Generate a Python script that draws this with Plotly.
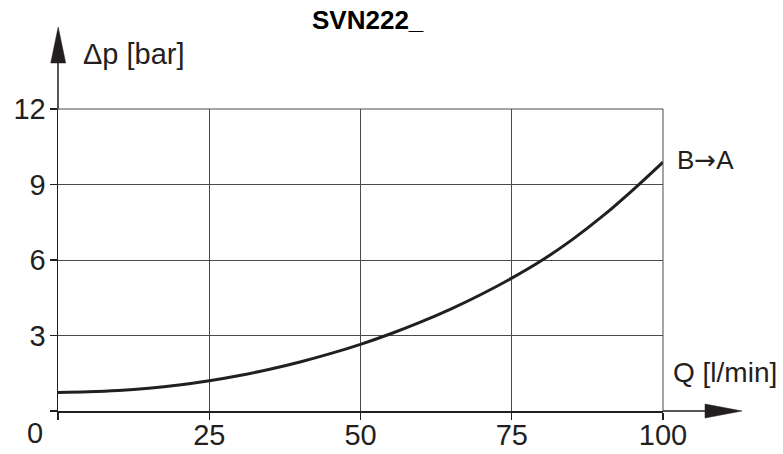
import plotly.graph_objects as go

# Data
flow_q = [0, 5, 10, 15, 20, 25, 30, 35, 40, 45, 50, 55, 60, 65, 70, 75, 80, 85, 90, 95, 100]
dp_bar = [0.74, 0.76, 0.81, 0.90, 1.03, 1.20, 1.41, 1.66, 1.95, 2.28, 2.65, 3.07, 3.54,
          4.06, 4.64, 5.28, 5.99, 6.81, 7.74, 8.78, 9.89]
x_ticks = [0, 25, 50, 75, 100]
x_tick_text = ["", "25", "50", "75", "100"]
y_ticks = [0, 3, 6, 9, 12]
y_tick_text = ["", "3", "6", "9", "12"]
series_name = "B\u2192A"
title_text = "SVN222_"
x_label = "Q [l/min]"
y_label = "\u0394p [bar]"

INK = "#231f20"
GRID = "#4a4a4a"
FONT = "Arial, Liberation Sans, Helvetica, sans-serif"

W, H = 783, 454
L, R, T, B = 58, 120, 109, 43
PW, PH = W - L - R, H - T - B


def px(xpix):
    return (xpix - L) / PW


def py(ypix):
    return (H - B - ypix) / PH


fig = go.Figure()
fig.add_trace(go.Scatter(
    x=flow_q, y=dp_bar, mode="lines", name=series_name,
    line=dict(color=INK, width=3, shape="spline"),
    showlegend=False, hoverinfo="skip",
))

axis_common = dict(
    showgrid=True, gridcolor=GRID, gridwidth=1,
    showline=True, linecolor=INK, linewidth=1.5, mirror=False,
    ticks="outside", ticklen=7, tickwidth=1.2, tickcolor=INK,
    zeroline=False, fixedrange=True, automargin=False,
    tickfont=dict(family=FONT, size=29, color=INK),
)

fig.update_xaxes(range=[0, 100], tickmode="array", tickvals=x_ticks,
                 ticktext=x_tick_text, ticklabelstandoff=-9, **axis_common)
fig.update_yaxes(range=[0, 12], tickmode="array", tickvals=y_ticks,
                 ticktext=y_tick_text, ticklabelstandoff=-2, **axis_common)

# Frame edges at 12 bar / 100 l/min, and axis arrows beyond the plot area
shapes = [
    dict(type="line", xref="paper", yref="paper", x0=0, x1=1, y0=1, y1=1,
         line=dict(color=GRID, width=1)),
    dict(type="line", xref="paper", yref="paper", x0=1, x1=1, y0=0, y1=1,
         line=dict(color=GRID, width=1)),
    dict(type="line", xref="paper", yref="paper", x0=0, x1=0, y0=1, y1=py(62),
         line=dict(color=INK, width=1.5)),
    dict(type="path", xref="paper", yref="paper",
         path=f"M {px(50.7)},{py(63)} L {px(58.2)},{py(27)} L {px(65.7)},{py(63)} Z",
         fillcolor=INK, line=dict(color=INK, width=0.5)),
    dict(type="line", xref="paper", yref="paper", x0=1, x1=px(706), y0=0, y1=0,
         line=dict(color=INK, width=1.5)),
    dict(type="path", xref="paper", yref="paper",
         path=f"M {px(705)},{py(404)} L {px(742)},{py(411)} L {px(705)},{py(418)} Z",
         fillcolor=INK, line=dict(color=INK, width=0.5)),
]

arrow_label = series_name.replace(
    "\u2192", "<span style='font-family:DejaVu Sans'>\u2192</span>")

annotations = [
    dict(text=f"<b>{title_text}</b>", xref="paper", yref="paper",
         x=px(367.5), y=py(20), xanchor="center", yanchor="middle", showarrow=False,
         font=dict(family=FONT, size=26, color="#000000")),
    dict(text=y_label, xref="paper", yref="paper", x=px(81), y=py(54),
         xanchor="left", yanchor="middle", showarrow=False,
         font=dict(family=FONT, size=29, color=INK)),
    dict(text=x_label, xref="paper", yref="paper", x=px(671), y=py(372),
         xanchor="left", yanchor="middle", showarrow=False,
         font=dict(family=FONT, size=28, color=INK)),
    dict(text="0", xref="paper", yref="paper", x=px(35), y=py(433),
         xanchor="center", yanchor="middle", showarrow=False,
         font=dict(family=FONT, size=29, color=INK)),
    dict(text=arrow_label, xref="x", yref="y", x=flow_q[-1], y=dp_bar[-1],
         xanchor="left", yanchor="middle", xshift=12, yshift=2, showarrow=False,
         font=dict(family=FONT, size=26, color=INK)),
]

fig.update_layout(
    width=W, height=H,
    margin=dict(l=L, r=R, t=T, b=B, pad=0, autoexpand=False),
    paper_bgcolor="white", plot_bgcolor="white",
    shapes=shapes, annotations=annotations,
    font=dict(family=FONT, color=INK),
)

fig.write_html(
    "out.html",
    config={"displayModeBar": False, "staticPlot": True},
    post_script="document.body.style.margin='0';document.body.style.padding='0';",
)
